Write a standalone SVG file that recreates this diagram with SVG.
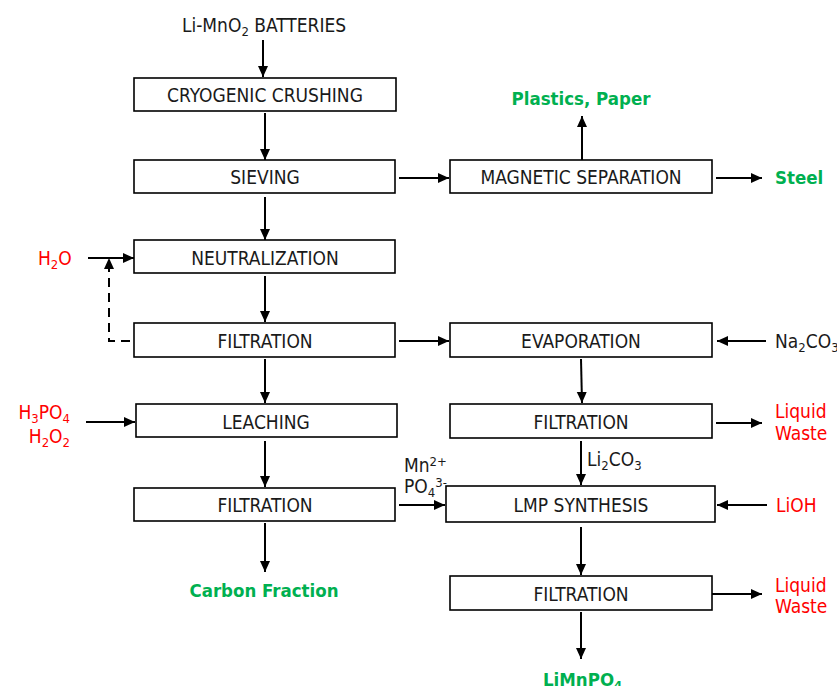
<svg xmlns="http://www.w3.org/2000/svg" width="837" height="686" viewBox="0 0 837 686">
<defs>
<marker id="ah" markerUnits="userSpaceOnUse" markerWidth="12" markerHeight="12" viewBox="0 0 12 12" refX="11" refY="6" orient="auto">
<path d="M0,1 L11,6 L0,11 z" fill="#000"/>
</marker>
<style>
.box{fill:#fff;stroke:#000;stroke-width:1.6}
.t{font-family:"DejaVu Sans Condensed","DejaVu Sans",sans-serif;font-size:19px;fill:#1a1a1a;text-anchor:middle}
.l{font-family:"DejaVu Sans Condensed","DejaVu Sans",sans-serif;font-size:19px;fill:#1a1a1a}
.red{fill:#ff0000}
.g{font-family:"DejaVu Sans Condensed","DejaVu Sans",sans-serif;font-size:18.5px;font-weight:bold;fill:#00b050}
.c{stroke:#000;stroke-width:2;fill:none;marker-end:url(#ah)}
.d{stroke:#000;stroke-width:2;fill:none;stroke-dasharray:9,6;marker-end:url(#ah)}
.s{font-size:13px}
</style>
</defs>
<rect width="837" height="686" fill="#fff"/>

<g id="connectors">
<line class="c" x1="263" y1="40" x2="263" y2="77"/>
<line class="c" x1="265" y1="113" x2="265" y2="160"/>
<line class="c" x1="265" y1="197" x2="265" y2="240"/>
<line class="c" x1="265" y1="276" x2="265" y2="322"/>
<line class="c" x1="265" y1="359" x2="265" y2="403"/>
<line class="c" x1="265" y1="441" x2="265" y2="487"/>
<line class="c" x1="265" y1="523" x2="265" y2="572"/>
<line class="c" x1="399" y1="178" x2="449" y2="178"/>
<line class="c" x1="582" y1="160" x2="582" y2="116"/>
<line class="c" x1="716" y1="178" x2="762" y2="178"/>
<line class="c" x1="88" y1="258" x2="134" y2="258"/>
<path class="d" d="M130,341 L109,341 L109,258"/>
<line class="c" x1="399" y1="341" x2="449" y2="341"/>
<line class="c" x1="766" y1="341" x2="717" y2="341"/>
<line class="c" x1="581" y1="359" x2="582" y2="403"/>
<line class="c" x1="716" y1="423" x2="762" y2="423"/>
<line class="c" x1="581" y1="441" x2="581" y2="485"/>
<line class="c" x1="86" y1="422" x2="135" y2="422"/>
<line class="c" x1="399" y1="505" x2="445" y2="505"/>
<line class="c" x1="767" y1="505" x2="717" y2="505"/>
<line class="c" x1="581" y1="527" x2="581" y2="575"/>
<line class="c" x1="712" y1="594" x2="762" y2="594"/>
<line class="c" x1="581" y1="612" x2="581" y2="659"/>
</g>

<g id="n-batteries"><text class="t" x="264" y="32">Li-MnO<tspan class="s" dy="4">2</tspan><tspan dy="-4"> BATTERIES</tspan></text></g>
<g id="n-cryo"><rect class="box" x="134" y="78" width="262" height="33"/><text class="t" x="265" y="102">CRYOGENIC CRUSHING</text></g>
<g id="n-sieving"><rect class="box" x="134" y="160" width="261" height="33"/><text class="t" x="265" y="184">SIEVING</text></g>
<g id="n-neut"><rect class="box" x="134" y="240" width="261" height="33"/><text class="t" x="265" y="265">NEUTRALIZATION</text></g>
<g id="n-filt1"><rect class="box" x="134" y="323" width="261" height="34"/><text class="t" x="265" y="348">FILTRATION</text></g>
<g id="n-leach"><rect class="box" x="136" y="404" width="261" height="33"/><text class="t" x="266" y="429">LEACHING</text></g>
<g id="n-filt2"><rect class="box" x="134" y="488" width="261" height="33"/><text class="t" x="265" y="512">FILTRATION</text></g>
<g id="n-carbon"><text class="g" x="264" y="597" text-anchor="middle">Carbon Fraction</text></g>

<g id="n-mag"><rect class="box" x="450" y="160" width="262" height="33"/><text class="t" x="581" y="184">MAGNETIC SEPARATION</text></g>
<g id="n-plastics"><text class="g" x="581" y="105" text-anchor="middle">Plastics, Paper</text></g>
<g id="n-steel"><text class="g" x="775" y="184">Steel</text></g>

<g id="n-h2o"><text class="l red" x="38" y="265">H<tspan class="s" dy="4">2</tspan><tspan dy="-4">O</tspan></text></g>
<g id="n-acid"><text class="l red" x="70" y="419" text-anchor="end">H<tspan class="s" dy="4">3</tspan><tspan dy="-4">PO</tspan><tspan class="s" dy="4">4</tspan></text><text class="l red" x="70" y="443" text-anchor="end">H<tspan class="s" dy="4">2</tspan><tspan dy="-4">O</tspan><tspan class="s" dy="4">2</tspan></text></g>

<g id="n-evap"><rect class="box" x="450" y="323" width="262" height="34"/><text class="t" x="581" y="348">EVAPORATION</text></g>
<g id="n-na2co3"><text class="l" x="775" y="348">Na<tspan class="s" dy="4">2</tspan><tspan dy="-4">CO</tspan><tspan class="s" dy="4">3</tspan></text></g>
<g id="n-filtr1"><rect class="box" x="450" y="404" width="262" height="34"/><text class="t" x="581" y="429">FILTRATION</text></g>
<g id="n-lw1"><text class="l red" x="775" y="418">Liquid</text><text class="l red" x="775" y="440">Waste</text></g>
<g id="n-li2co3"><text class="l" x="587" y="466">Li<tspan class="s" dy="4">2</tspan><tspan dy="-4">CO</tspan><tspan class="s" dy="4">3</tspan></text></g>
<g id="n-mnpo4"><text class="l" x="404" y="472">Mn<tspan class="s" dy="-6">2+</tspan></text><text class="l" x="404" y="493">PO<tspan class="s" dy="4">4</tspan><tspan class="s" dy="-10">3-</tspan></text></g>
<g id="n-lmp"><rect class="box" x="446" y="486" width="269" height="36"/><text class="t" x="581" y="512">LMP SYNTHESIS</text></g>
<g id="n-lioh"><text class="l red" x="776" y="512">LiOH</text></g>
<g id="n-filtr2"><rect class="box" x="450" y="576" width="262" height="34"/><text class="t" x="581" y="601">FILTRATION</text></g>
<g id="n-lw2"><text class="l red" x="775" y="592">Liquid</text><text class="l red" x="775" y="613">Waste</text></g>
<g id="n-limnpo4"><text class="g" x="543" y="686">LiMnPO<tspan class="s" dy="4">4</tspan></text></g>
</svg>
